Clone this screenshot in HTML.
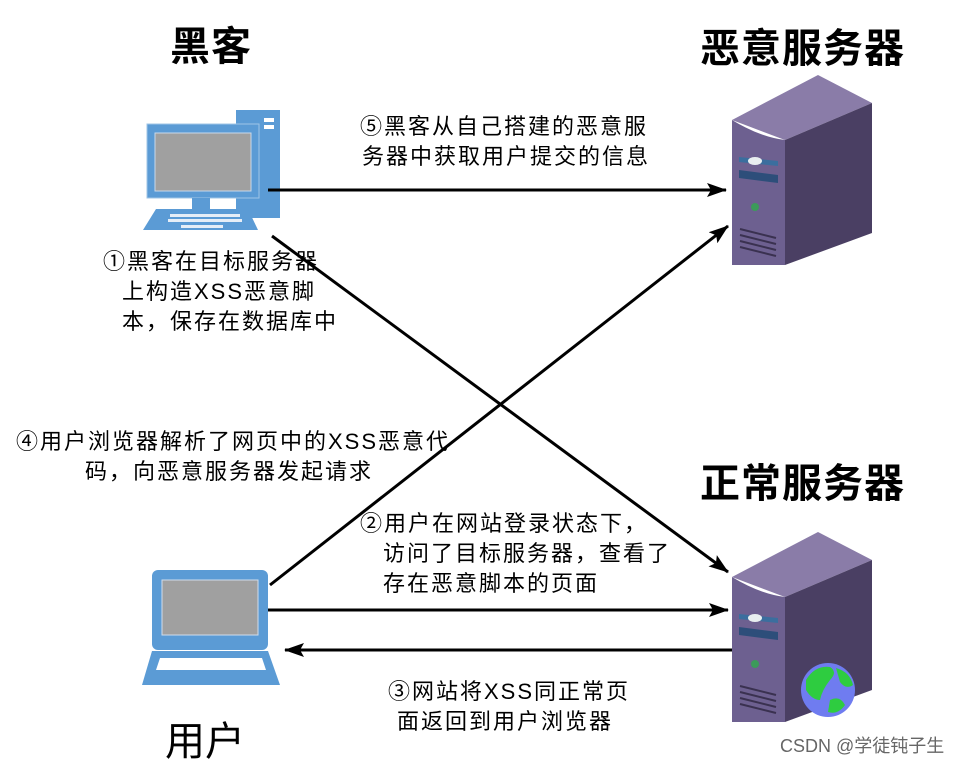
<!DOCTYPE html>
<html><head><meta charset="utf-8"><style>
body{margin:0;background:#fff;}
svg text{font-family:"Liberation Sans","Noto Sans CJK SC",sans-serif;fill:#000;}
</style></head><body>
<svg width="960" height="764" viewBox="0 0 960 764" xmlns="http://www.w3.org/2000/svg">
<defs>
<marker id="b" markerWidth="20" markerHeight="14" refX="19" refY="7" orient="auto" markerUnits="userSpaceOnUse"><path d="M0,0 L20,7 L0,14 L4,7 z" fill="#000"/></marker>
<g id="srv">
<path d="M732,45 L818,0 L872,28 L785,65 z" fill="#8a7ca8"/>
<path d="M785,65 L872,28 L872,158 L785,190 z" fill="#4a3f63"/>
<path d="M732,45 Q760,62 785,65 L785,190 L732,190 z" fill="#6d6090"/>
<path d="M739,82 L778,86 L778,91 L739,87 z" fill="#3b6e9e"/>
<ellipse cx="755" cy="86" rx="7" ry="4" fill="#e8eef0"/>
<path d="M739,95 L778,100 L778,108 L739,103 z" fill="#2d4e7a"/>
<circle cx="755" cy="132" r="4" fill="#3c9a5a"/>
<path d="M740,154 L776,163 M740,160 L776,169 M740,166 L776,175 M740,172 L776,181" stroke="#3a3150" stroke-width="2"/>
</g>
</defs>
<g font-size="40" font-weight="bold" letter-spacing="1">
<text x="170" y="60">黑客</text>
<text x="700" y="62">恶意服务器</text>
<text x="700" y="497">正常服务器</text>
</g>
<text x="165" y="755" font-size="40">用户</text>

<rect x="236" y="110" width="44" height="108" fill="#5b9bd5"/>
<rect x="264" y="118" width="10" height="4" fill="#fff"/>
<rect x="264" y="125" width="10" height="4" fill="#fff"/>
<rect x="147" y="124" width="112" height="74" fill="#5b9bd5" stroke="#9fc4e6" stroke-width="1"/>
<rect x="155" y="133" width="96" height="58" fill="#a0a0a0" stroke="#c9d9ea"/>
<rect x="192" y="198" width="18" height="12" fill="#5b9bd5"/>
<path d="M156,209 L248,209 L258,230 L143,230 z" fill="#5b9bd5"/>
<g fill="#e6eef7"><rect x="170" y="214" width="70" height="3"/><rect x="168" y="219" width="74" height="3"/><rect x="181" y="225" width="42" height="3"/></g>

<rect x="152" y="570" width="116" height="80" rx="6" fill="#5b9bd5"/>
<rect x="162" y="580" width="96" height="55" fill="#a0a0a0" stroke="#d0dceb"/>
<path d="M152,651 L268,651 L280,685 L142,685 z" fill="#5b9bd5"/>
<path d="M160,658 L262,658 L266,670 L156,670 z" fill="#fff"/>

<use href="#srv" transform="translate(0,75)"/>
<use href="#srv" transform="translate(0,532)"/>
<circle cx="828" cy="690" r="27" fill="#6f7cf0"/>
<path d="M806,680 Q815,665 830,667 Q838,672 830,680 Q822,690 820,700 Q812,700 806,690 z M836,668 Q850,672 853,685 Q846,690 840,682 z M830,700 Q840,695 845,705 Q838,715 828,712 z" fill="#2ecc40"/>

<g stroke="#000" stroke-width="3" fill="none">
<line x1="268" y1="190" x2="726" y2="190" marker-end="url(#b)"/>
<line x1="272" y1="236" x2="728" y2="572" marker-end="url(#b)"/>
<line x1="270" y1="585" x2="728" y2="226" marker-end="url(#b)"/>
<line x1="268" y1="610" x2="728" y2="610" marker-end="url(#b)"/>
<line x1="732" y1="650" x2="285" y2="650" marker-end="url(#b)"/>
</g>

<g font-size="22" letter-spacing="2">
<text x="360" y="134">⑤黑客从自己搭建的恶意服</text>
<text x="362" y="164">务器中获取用户提交的信息</text>
<text x="103" y="269">①黑客在目标服务器</text>
<text x="122" y="299">上构造XSS恶意脚</text>
<text x="122" y="329">本，保存在数据库中</text>
<text x="16" y="449">④用户浏览器解析了网页中的XSS恶意代</text>
<text x="85" y="479">码，向恶意服务器发起请求</text>
<text x="360" y="531">②用户在网站登录状态下，</text>
<text x="383" y="561">访问了目标服务器，查看了</text>
<text x="383" y="591">存在恶意脚本的页面</text>
<text x="388" y="699">③网站将XSS同正常页</text>
<text x="397" y="729">面返回到用户浏览器</text>
</g>
<text x="780" y="752" font-size="18" style="fill:#666">CSDN @学徒钝子生</text>
</svg>
</body></html>
